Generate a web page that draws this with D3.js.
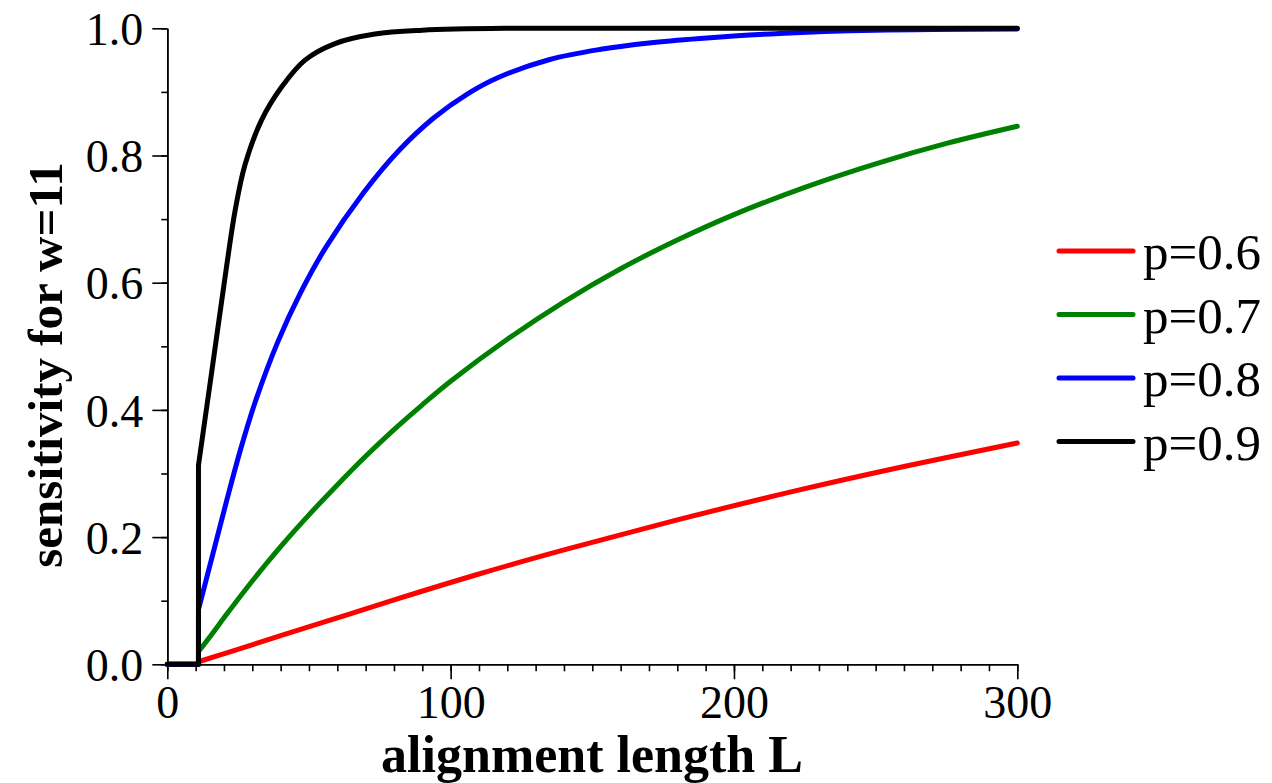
<!DOCTYPE html>
<html>
<head>
<meta charset="utf-8">
<script src="https://cdn.jsdelivr.net/npm/d3@7/dist/d3.min.js"></script>
<style>
  body { margin: 0; background: #fff; }
  text { font-family: "Liberation Serif", "Times New Roman", serif; fill: #000; }
  .axis path, .axis line { stroke: #000; stroke-width: 1.6; }
</style>
</head>
<body>
<svg id="chart" width="1272" height="783"></svg>
<script>
// sensitivity curves: [L, sensitivity]
var seriesNames = ["p=0.6", "p=0.7", "p=0.8", "p=0.9"];
var seriesColors = ["#ff0000", "#008000", "#0000ff", "#000000"];

var redPts = [[0, 0], [11, 0], [11, 0.004], [21, 0.018], [40, 0.045], [60, 0.073], [82, 0.104],
    [110, 0.142], [141, 0.181], [180, 0.227], [222, 0.273], [260, 0.311], [300, 0.348]];
var greenPts = [[0, 0], [11, 0], [11, 0.02], [16, 0.049], [21, 0.079], [30, 0.131], [40, 0.185],
    [50, 0.235], [60, 0.282], [70, 0.327], [80, 0.369], [90, 0.408], [100, 0.445], [120, 0.511],
    [140, 0.57], [160, 0.622], [180, 0.667], [200, 0.707], [225, 0.75], [250, 0.787],
    [275, 0.819], [300, 0.846]];
var bluePts = [[0, 0], [11, 0], [11, 0.086], [16, 0.172], [21, 0.258], [26, 0.34], [31, 0.412],
    [39, 0.507], [47, 0.584], [56, 0.656], [69, 0.74], [82, 0.809], [94, 0.859], [106, 0.897],
    [117, 0.923], [135, 0.951], [153, 0.967], [170, 0.977], [188, 0.984], [216, 0.992],
    [250, 0.997], [300, 0.999]];
var blackPts = [[0, 0], [11, 0], [11, 0.313], [16, 0.47], [21, 0.628], [24, 0.715], [27.4, 0.785],
    [33.3, 0.856], [40.4, 0.908], [48.6, 0.95], [59.2, 0.976], [73.3, 0.991], [90, 0.997],
    [120, 1.0], [200, 1.0], [300, 1.0]];
var allSeries = [redPts, greenPts, bluePts, blackPts];

var xMajor = [0, 100, 200, 300];
var yMajor = [0, 0.2, 0.4, 0.6, 0.8, 1.0];

var svg = d3.select("#chart");
var x = d3.scaleLinear().domain([0, 300]).range([167.3, 1017.3]);
var y = d3.scaleLinear().domain([0, 1]).range([664.3, 28.3]);

// x axis: minor ticks every 10, major every 100
svg.append("g").attr("class", "axis")
    .attr("transform", "translate(0," + y(0) + ")")
    .call(d3.axisBottom(x).tickValues(d3.range(0, 301, 10)).tickSize(7).tickSizeOuter(0).tickFormat(""));
var xa = svg.append("g").attr("class", "axis")
    .attr("transform", "translate(0," + y(0) + ")")
    .call(d3.axisBottom(x).tickValues(xMajor).tickSize(15).tickSizeOuter(0).tickPadding(6).tickFormat(d3.format("d")));
xa.selectAll("text").style("font-size", "46px").attr("dy", "0.72em");

// y axis
svg.append("g").attr("class", "axis")
    .attr("transform", "translate(" + x(0) + ",0)")
    .call(d3.axisLeft(y).tickValues(d3.range(0, 1.01, 0.1)).tickSize(6).tickSizeOuter(0).tickFormat(""));
var ya = svg.append("g").attr("class", "axis")
    .attr("transform", "translate(" + x(0) + ",0)")
    .call(d3.axisLeft(y).tickValues(yMajor).tickSize(15).tickSizeOuter(0).tickPadding(9).tickFormat(d3.format(".1f")));
ya.selectAll("text").style("font-size", "46px").attr("dy", "0.35em");

// curves: straight up to the jump at L=11, smooth afterwards
var straight = d3.line().x(function(d) { return x(d[0]); }).y(function(d) { return y(d[1]); });
var smooth = d3.line().x(function(d) { return x(d[0]); }).y(function(d) { return y(d[1]); })
    .curve(d3.curveCatmullRom.alpha(0.5));

allSeries.forEach(function(pts, i) {
    var path = straight(pts.slice(0, 3)) + smooth(pts.slice(2)).replace(/^M/, "L");
    svg.append("path")
        .attr("d", path)
        .attr("fill", "none")
        .attr("stroke", seriesColors[i])
        .attr("stroke-width", 5)
        .attr("stroke-linecap", "round")
        .attr("stroke-linejoin", "round");
});

// legend
var legend = svg.append("g").attr("transform", "translate(1059,251)");
seriesNames.forEach(function(name, i) {
    var g = legend.append("g").attr("transform", "translate(0," + (i * 63.5) + ")");
    g.append("line").attr("x1", 0).attr("x2", 74).attr("y1", 0).attr("y2", 0)
        .attr("stroke", seriesColors[i]).attr("stroke-width", 5).attr("stroke-linecap", "round");
    g.append("text").attr("x", 84).attr("y", 18).style("font-size", "51px").text(name);
});

// axis titles
svg.append("text")
    .attr("x", 592).attr("y", 772)
    .attr("text-anchor", "middle")
    .style("font-size", "52px").style("font-weight", "bold")
    .text("alignment length L");

svg.append("text")
    .attr("transform", "translate(62,365) rotate(-90)")
    .attr("text-anchor", "middle")
    .style("font-size", "49px").style("font-weight", "bold")
    .text("sensitivity for w=11");
</script>
</body>
</html>
